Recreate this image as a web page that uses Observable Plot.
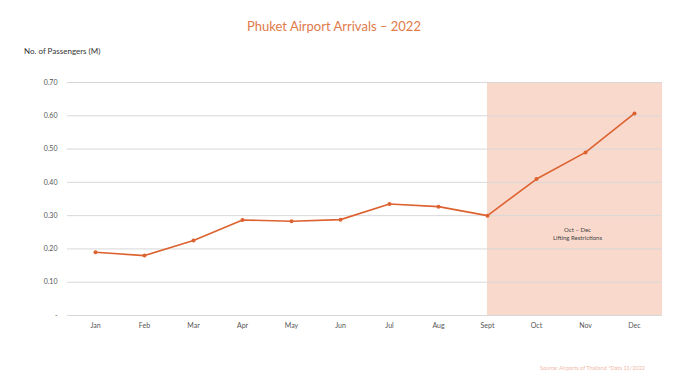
<!DOCTYPE html>
<html><head><meta charset="utf-8">
<script src="https://cdn.jsdelivr.net/npm/d3@7"></script>
<script src="https://cdn.jsdelivr.net/npm/@observablehq/plot@0.6"></script>
<style>
body{margin:0;background:#fff;font-family:Lato,"Open Sans",sans-serif;}
#wrap{position:relative;width:680px;height:382px;}
.t{position:absolute;white-space:nowrap;}
#title{left:0;width:668px;top:18px;text-align:center;font-size:13px;color:#e07a4a;}
#ylab{left:24px;top:46px;font-size:8px;color:#333;}
#src{left:540px;top:365px;font-size:5.5px;color:#f0b8a8;}
</style></head>
<body><div id="wrap">
<div class="t" id="title">Phuket Airport Arrivals – 2022</div>
<div class="t" id="ylab">No. of Passengers (M)</div>
<div class="t" id="src">Source: Airports of Thailand *Data 11/2022</div>
</div>
<script>
const months = ["Jan","Feb","Mar","Apr","May","Jun","Jul","Aug","Sept","Oct","Nov","Dec"];
const passengers = [0.19,0.18,0.225,0.287,0.283,0.288,0.335,0.327,0.30,0.41,0.49,0.607];
const yTicks = [0,0.1,0.2,0.3,0.4,0.5,0.6,0.7];
const shadeStart = "Sept";
const annotation = "Oct – Dec\nLifting Restrictions";
const annotationAt = {month: "Nov", value: 0.246};

const data = months.map((m,i)=>({month:m, value:passengers[i]}));
const orange = "#dc6230";

const shade = Plot.rect([0], {
  render: (index, scales, values, dims) => {
    const x0 = scales.x(shadeStart);
    const x1 = dims.width - dims.marginRight;
    const y0 = scales.y(yTicks[yTicks.length-1]);
    const y1 = scales.y(0);
    const r = document.createElementNS("http://www.w3.org/2000/svg","rect");
    r.setAttribute("x", x0); r.setAttribute("y", y0);
    r.setAttribute("width", x1 - x0); r.setAttribute("height", y1 - y0);
    r.setAttribute("fill", "#f9d9cc");
    const g = document.createElementNS("http://www.w3.org/2000/svg","g");
    g.appendChild(r);
    return g;
  }
});

const chart = Plot.plot({
  width: 680, height: 382,
  marginTop: 82, marginBottom: 67, marginLeft: 67, marginRight: 18,
  style: {fontFamily: "Lato, 'Open Sans', sans-serif", fontSize: "7px", background: "transparent"},
  x: {type: "point", domain: months, padding: 0.5, label: null, tickSize: 0, tickPadding: 8},
  y: {domain: [0, 0.7], ticks: yTicks, label: null, tickSize: 0, tickPadding: 10,
      tickFormat: d => d === 0 ? "-" : d.toFixed(2)},
  marks: [
    shade,
    Plot.ruleY(yTicks, {stroke: "#d8d8d8", strokeWidth: 1}),
    Plot.line(data, {x: "month", y: "value", stroke: orange, strokeWidth: 1.6}),
    Plot.dot(data, {x: "month", y: "value", fill: orange, r: 2}),
    Plot.text([annotationAt], {x: "month", y: "value", text: () => annotation, dx: -8, fontSize: 6, fill: "#444", lineHeight: 1.2})
  ]
});
chart.style.position = "absolute"; chart.style.left = "0"; chart.style.top = "0";
chart.querySelectorAll("[aria-label='x-axis tick label'] text, [aria-label='y-axis tick label'] text").forEach(t=>t.setAttribute("fill","#555"));
document.getElementById("wrap").prepend(chart);
</script></body></html>
